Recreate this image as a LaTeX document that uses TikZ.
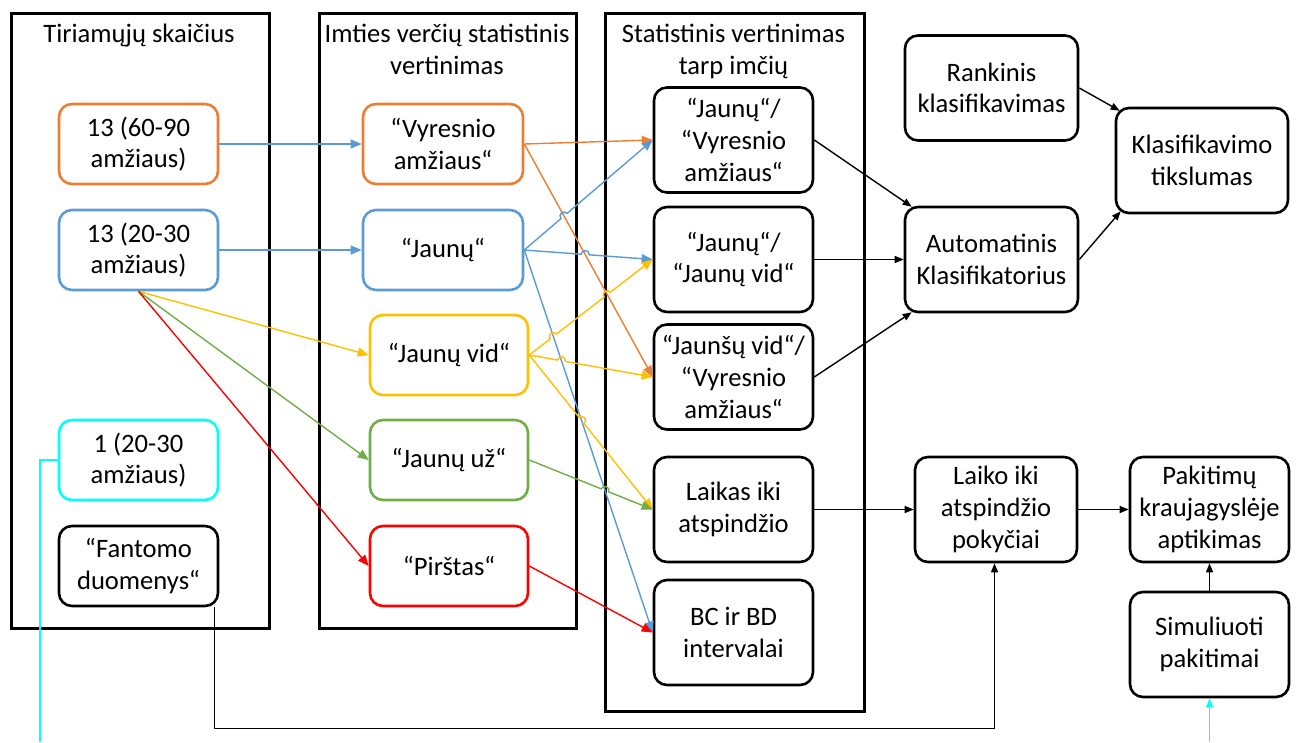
\documentclass[tikz,border=0pt]{standalone}
\usepackage{fontspec}
\setmainfont{Carlito}
\usetikzlibrary{arrows.meta,calc,intersections}
\definecolor{cOr}{HTML}{ED7D31}
\definecolor{cBl}{HTML}{5B9BD5}
\definecolor{cYe}{HTML}{FFC000}
\definecolor{cGr}{HTML}{70AD47}
\definecolor{cRd}{HTML}{FF0000}
\definecolor{cCy}{HTML}{00FFFF}

% straight connector with one small jump over a crossing line
\newcommand\hopline[4]{%
  \draw[#1] let \p1=($(#4)-(#2)$), \n1={atan2(\y1,\x1)} in
    (#2) -- ($(#3)!4pt!(#2)$)
    arc[start angle=\n1+180, delta angle=-180, radius=4pt] -- (#4);}

\begin{document}
\begin{tikzpicture}[x=1pt,y=1pt,
  txt/.style={font=\fontsize{26.6}{31.7}\selectfont, align=center, inner sep=0pt},
  panel/.style={draw, line width=2.6pt, inner sep=0pt, anchor=north west},
  rbox/.style={txt, draw, line width=2.6pt, rounded corners=13pt,
               minimum width=159pt, minimum height=80pt},
  tall/.style={rbox, minimum height=105pt},
  wire/.style={line width=1.4pt, -{Triangle[length=11pt,width=9pt]}},
  bwire/.style={line width=1.4pt, -{Triangle[length=9pt,width=7pt]}},
]
\useasboundingbox (0,0) rectangle (1297,-742);

% column frames
\node[panel, minimum width=258pt, minimum height=615pt] (colA) at (10,-12) {};
\node[panel, minimum width=257pt, minimum height=615pt] (colB) at (318,-12) {};
\node[panel, minimum width=259pt, minimum height=698pt] (colC) at (604,-12) {};

\node[txt, anchor=north] (tA) at (139,-24) {Tiriamųjų skaičius};
\node[txt, anchor=north] (tB) at (447,-24) {Imties verčių statistinis\\vertinimas};
\node[txt, anchor=north] (tC) at (733.5,-24) {Statistinis vertinimas\\tarp imčių};

% subject groups
\node[rbox, draw=cOr] (n6090) at (138.5,-144) {13 (60-90\\amžiaus)};
\node[rbox, draw=cBl] (n2030) at (138.5,-250) {13 (20-30\\amžiaus)};
\node[rbox, draw=cCy] (n1) at (138.5,-460) {1 (20-30\\amžiaus)};
\node[rbox] (fant) at (138.5,-566) {“Fantomo\\duomenys“};

% sample statistics
\node[rbox, draw=cOr, minimum width=160pt] (vyr) at (443,-144) {“Vyresnio\\amžiaus“};
\node[rbox, draw=cBl, minimum width=160pt] (jau) at (443,-250) {“Jaunų“};
\node[rbox, draw=cYe, minimum width=158pt] (jvid) at (449,-355) {“Jaunų vid“};
\node[rbox, draw=cGr, minimum width=158pt] (juz) at (449,-460) {“Jaunų už“};
\node[rbox, draw=cRd, minimum width=158pt] (pir) at (449,-566) {“Pirštas“};

% comparisons between samples
\node[tall] (cJV) at (733.5,-140) {“Jaunų“/\\“Vyresnio\\amžiaus“};
\node[tall] (cJJ) at (733.5,-259.5) {“Jaunų“/\\“Jaunų vid“};
\node[tall] (cJVV) at (733.5,-377) {“Jaunšų vid“/\\“Vyresnio\\amžiaus“};
\node[tall] (laik) at (733.5,-509.5) {Laikas iki\\atspindžio};
\node[tall] (bcbd) at (733.5,-632.5) {BC ir BD\\intervalai};

% outcomes
\node[tall, minimum width=173pt] (rank) at (991.5,-88) {Rankinis\\klasifikavimas};
\node[tall, minimum width=173pt] (auto) at (991.5,-259.5) {Automatinis\\Klasifikatorius};
\node[tall, minimum width=172pt] (klas) at (1202,-160.5) {Klasifikavimo\\tikslumas};
\node[tall, minimum width=162pt] (laiko) at (996,-509.5) {Laiko iki\\atspindžio\\pokyčiai};
\node[tall] (pakit) at (1209.5,-509.5) {Pakitimų\\kraujagyslėje\\aptikimas};
\node[tall] (sim) at (1209.5,-644.5) {Simuliuoti\\pakitimai};

% crossing points for the line jumps
\path[name path=pO] (vyr.east) -- (cJVV.west);
\path[name path=pB] (jau.east) -- (bcbd.west);
\path[name path=pB1] (jau.east) -- (cJV.west);
\path[name path=pB2] (jau.east) -- (cJJ.west);
\path[name path=pY1] (jvid.east) -- (cJJ.west);
\path[name path=pY2] (jvid.east) -- (cJVV.west);
\path[name path=pY3] (jvid.east) -- (laik.west);
\path[name path=pG] (juz.east) -- (laik.west);
\path[name intersections={of=pB1 and pO, by=hB1}];
\path[name intersections={of=pB2 and pO, by=hB2}];
\path[name intersections={of=pY1 and pB, by=hY1}];
\path[name intersections={of=pY1 and pO, by=hY1o}];
\path[name intersections={of=pY2 and pB, by=hY2}];
\path[name intersections={of=pY3 and pB, by=hY3}];
\path[name intersections={of=pG and pB, by=hG}];

% groups -> statistics
\draw[wire, cBl] (n6090.east) -- (vyr.west);
\draw[wire, cBl] (n2030.east) -- (jau.west);
\draw[wire, cYe] (n2030.south) -- (jvid.west);
\draw[wire, cGr] (n2030.south) -- (juz.west);
\draw[wire, cRd] (n2030.south) -- (pir.west);

% statistics -> comparisons
\draw[wire, cOr] (vyr.east) -- (cJV.west);
\draw[wire, cOr] (vyr.east) -- (cJVV.west);
\draw[wire, cBl] (jau.east) -- (bcbd.west);
\draw[wire, cRd] (pir.east) -- (bcbd.west);
\hopline{wire, cBl}{jau.east}{hB1}{cJV.west}
\hopline{wire, cBl}{jau.east}{hB2}{cJJ.west}
\hopline{wire, cYe}{jvid.east}{hY2}{cJVV.west}
\hopline{wire, cYe}{jvid.east}{hY3}{laik.west}
\hopline{wire, cGr}{juz.east}{hG}{laik.west}
\draw[wire, cYe] let \p1=($(cJJ.west)-(jvid.east)$), \n1={atan2(\y1,\x1)} in
  (jvid.east) -- ($(hY1)!4pt!(jvid.east)$)
  arc[start angle=\n1+180, delta angle=-180, radius=4pt]
  -- ($(hY1o)!4pt!(jvid.east)$)
  arc[start angle=\n1+180, delta angle=-180, radius=4pt] -- (cJJ.west);

% comparisons -> outcomes
\draw[bwire] (cJV.east) -- ($(auto.north west)+(8,-1)$);
\draw[bwire] (cJJ.east) -- (auto.west);
\draw[bwire] (cJVV.east) -- ($(auto.south west)+(8,1)$);
\draw[bwire] (rank.east) -- ($(klas.north west)+(5,-4)$);
\draw[bwire] (auto.east) -- ($(klas.south west)+(6,3)$);
\draw[bwire] (laik.east) -- (laiko.west);
\draw[bwire] (laiko.east) -- (pakit.west);
\draw[bwire] (sim.north) -- (pakit.south);
\draw[bwire] ($(fant.south east)+(-5,0)$) -- ++(0,-121) -| ($(laiko.south)+(-1.5,0)$);

% phantom link leaving the frame
\coordinate (cyL) at (40,-742);
\coordinate (cyR) at (1209.5,-742);
\draw[cCy, line width=1.4pt] (n1.west) -| (cyL);
\draw[bwire, cCy] (cyR) -- (sim.south);
\end{tikzpicture}
\end{document}
